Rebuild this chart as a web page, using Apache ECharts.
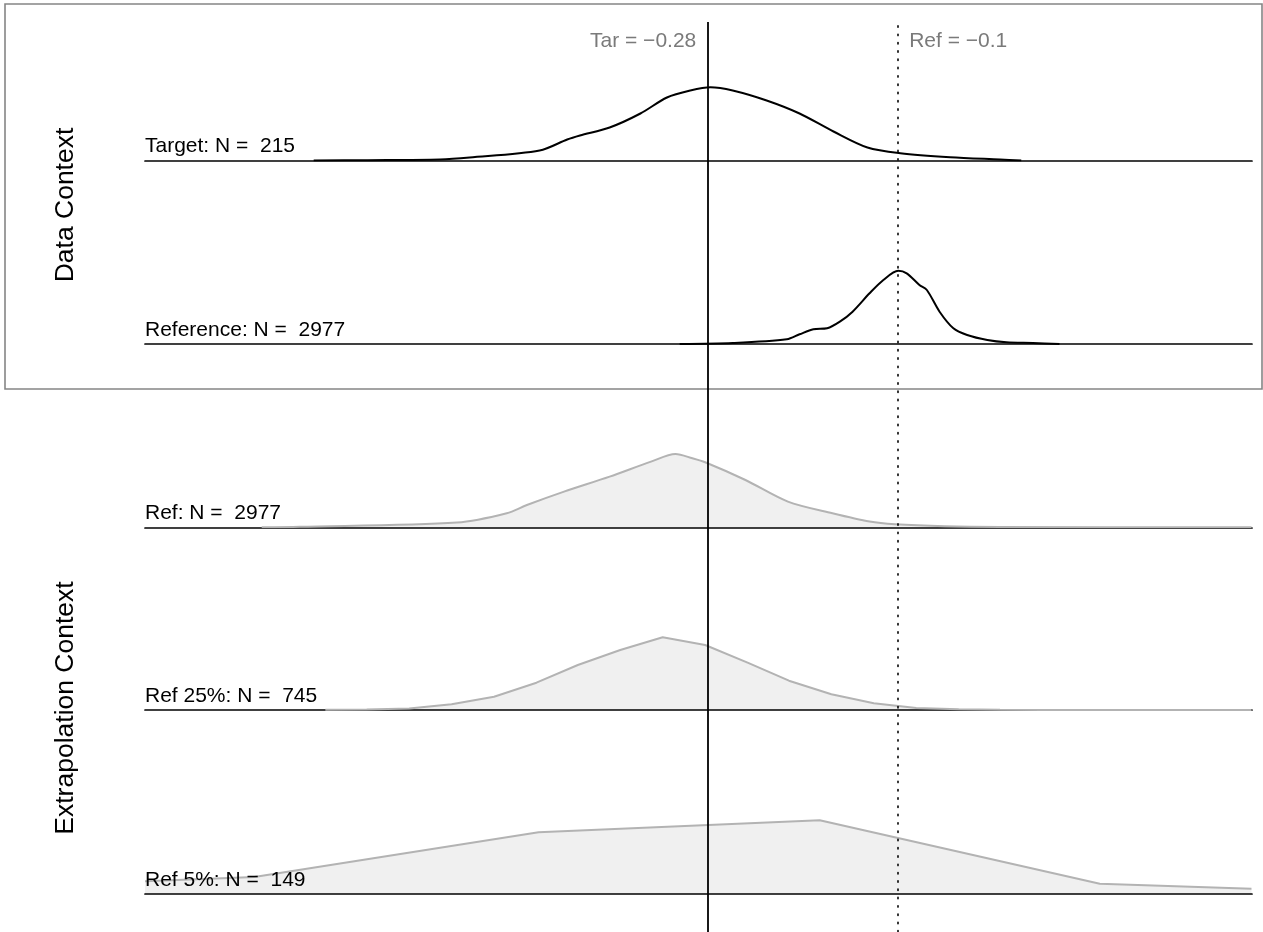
<!DOCTYPE html>
<html>
<head>
<meta charset="utf-8">
<script src="https://cdn.jsdelivr.net/npm/echarts@6/dist/echarts.min.js"></script>
<style>
  html, body { margin: 0; padding: 0; background: #fff; }
  #chart { width: 1263px; height: 932px; }
</style>
</head>
<body>
<div id="chart"></div>
<script>
// x range of the ridges
const xMin = -0.81;
const xMax = 0.2335;
const tarValue = -0.28;
const refValue = -0.1;

const rowLabels = ["Target: N =  215", "Reference: N =  2977", "Ref: N =  2977", "Ref 25%: N =  745", "Ref 5%: N =  149"];
const panelLabels = ["Data Context", "Extrapolation Context"];

// [x, height] pairs
const targetDensity = [
  [-0.651, 0], [-0.600, 0.3], [-0.532, 1], [-0.504, 3], [-0.438, 10], [-0.412, 21],
  [-0.400, 25], [-0.372, 33], [-0.343, 47], [-0.318, 63], [-0.296, 70], [-0.277, 73.3],
  [-0.256, 70], [-0.224, 60], [-0.193, 47], [-0.161, 29], [-0.129, 13], [-0.098, 7.3],
  [-0.051, 3.3], [-0.004, 1], [0.016, 0]
];
const referenceDensity = [
  [-0.306, 0], [-0.256, 1], [-0.205, 4.7], [-0.193, 9.7], [-0.180, 14.7], [-0.167, 15.7],
  [-0.155, 22.3], [-0.143, 32.3], [-0.127, 50.7], [-0.114, 64], [-0.100, 73.3], [-0.092, 70.7],
  [-0.080, 59], [-0.073, 54], [-0.061, 32.3], [-0.048, 15.7], [-0.035, 9], [-0.016, 4],
  [0.002, 1.7], [0.027, 1], [0.052, 0]
];
const refAll = [
  [-0.700, 0], [-0.664, 0.5], [-0.516, 4.7], [-0.469, 14], [-0.450, 22.3], [-0.415, 35.7],
  [-0.372, 50.7], [-0.333, 65.7], [-0.310, 73.3], [-0.294, 69], [-0.282, 65], [-0.244, 47.3],
  [-0.204, 25.7], [-0.162, 14], [-0.127, 5.7], [-0.103, 3], [-0.056, 1], [-0.004, 0.3], [0.233, 0]
];
const ref25 = [
  [-0.640, 0.2], [-0.601, 0.5], [-0.561, 1.5], [-0.521, 5.7], [-0.481, 13.3], [-0.441, 27.3],
  [-0.402, 45], [-0.362, 60], [-0.322, 72.7], [-0.282, 65], [-0.242, 47.3], [-0.203, 29.3],
  [-0.163, 15.7], [-0.123, 6.7], [-0.083, 2], [-0.043, 0.8], [-0.004, 0.3], [0.036, 0.1], [0.233, 0]
];
const ref5 = [
  [-0.810, 12.7], [-0.707, 17], [-0.439, 61.7], [-0.174, 73.7], [0.090, 10.3], [0.233, 5.3]
];

const rowData = [targetDensity, referenceDensity, refAll, ref25, ref5];
const rowBase = [160.5, 344, 527.3, 710, 894];
const rowH = 90;
const font = '"Liberation Sans", Arial, Helvetica, sans-serif';

const chart = echarts.init(document.getElementById("chart"));

const grids = [];
const xAxes = [];
const yAxes = [];
const series = [];

rowData.forEach((d, i) => {
  const filled = i >= 2;
  grids.push({ left: 145, right: 11, top: rowBase[i] - rowH, height: rowH });
  xAxes.push({
    type: "value", gridIndex: i, min: xMin, max: xMax, z: 3,
    axisLine: { show: true, lineStyle: { color: "#000", width: 1.7 } },
    axisTick: { show: false }, axisLabel: { show: false }, splitLine: { show: false }
  });
  yAxes.push({ type: "value", gridIndex: i, min: 0, max: rowH, show: false });
  series.push({
    type: "line", xAxisIndex: i, yAxisIndex: i, data: d,
    showSymbol: false, silent: true,
    smooth: i <= 2 ? 0.3 : false,
    lineStyle: { color: filled ? "#b3b3b3" : "#000", width: 2 },
    areaStyle: filled ? { color: "#f0f0f0", opacity: 1 } : undefined
  });
});

// overlay grid for the two reference lines
const ov = rowData.length;
grids.push({ left: 145, right: 11, top: 22, bottom: 0 });
xAxes.push({ type: "value", gridIndex: ov, min: xMin, max: xMax, show: false });
yAxes.push({ type: "value", gridIndex: ov, min: 0, max: 1, show: false });
series.push({
  type: "line", xAxisIndex: ov, yAxisIndex: ov, data: [], z: 5,
  markLine: {
    silent: true, symbol: "none", label: { show: false },
    data: [
      { xAxis: tarValue, lineStyle: { color: "#000", width: 1.8, type: "solid" } },
      { xAxis: refValue, lineStyle: { color: "#000", width: 1.6, type: [1.4, 6.9], cap: "round" } }
    ]
  }
});

chart.setOption({
  animation: false,
  backgroundColor: "#fff",
  grid: grids,
  xAxis: xAxes,
  yAxis: yAxes,
  series: series
});

// texts placed from the axis scales
const graphics = [
  { type: "rect", shape: { x: 5, y: 4, width: 1257, height: 385 }, style: { fill: null, stroke: "#858585", lineWidth: 1.6 }, z: 1 }
];
const tarPx = chart.convertToPixel({ gridIndex: 0 }, [tarValue, 0])[0];
const refPx = chart.convertToPixel({ gridIndex: 0 }, [refValue, 0])[0];
graphics.push({ type: "text", z: 10, style: { text: "Tar = \u22120.28", x: tarPx - 11, y: 41, align: "right", verticalAlign: "middle", font: "21px " + font, fill: "#7a7a7a" } });
graphics.push({ type: "text", z: 10, style: { text: "Ref = \u22120.1", x: refPx + 11, y: 41, align: "left", verticalAlign: "middle", font: "21px " + font, fill: "#7a7a7a" } });

rowLabels.forEach((t, i) => {
  const p = chart.convertToPixel({ gridIndex: i }, [xMin, 0]);
  graphics.push({ type: "text", z: 10, style: { text: t, x: p[0], y: p[1] - 14, align: "left", verticalAlign: "middle", font: "21px " + font, fill: "#000" } });
});

graphics.push({ type: "text", z: 10, x: 66, y: 205, rotation: Math.PI / 2, style: { text: panelLabels[0], x: 0, y: 0, align: "center", verticalAlign: "middle", font: "26.5px " + font, fill: "#000" } });
graphics.push({ type: "text", z: 10, x: 66, y: 708, rotation: Math.PI / 2, style: { text: panelLabels[1], x: 0, y: 0, align: "center", verticalAlign: "middle", font: "26.5px " + font, fill: "#000" } });

chart.setOption({ graphic: graphics });
</script>
</body>
</html>
